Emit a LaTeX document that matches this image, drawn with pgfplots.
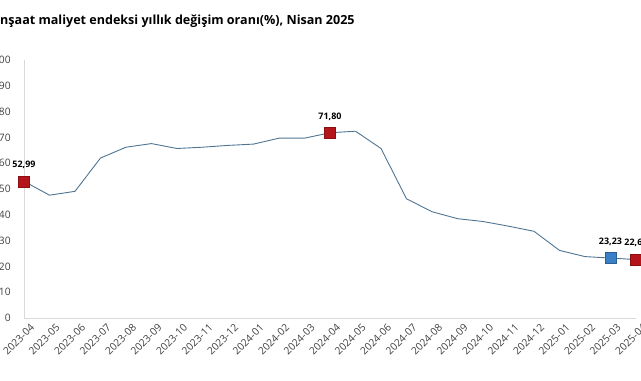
\documentclass[border=0pt]{standalone}
\usepackage{pgfplots}
\pgfplotsset{compat=1.18}
\usepackage{fontspec}
\setmainfont{Open Sans}
\definecolor{linec}{HTML}{4F7593}
\definecolor{redm}{HTML}{B3151B}
\definecolor{redb}{HTML}{8A0E12}
\definecolor{bluem}{HTML}{3A80C4}
\definecolor{blueb}{HTML}{2A5F95}
\definecolor{axc}{HTML}{D9D9D9}
\definecolor{tickc}{HTML}{404040}
\begin{document}
\begin{tikzpicture}[x=1bp,y=1bp]
\begin{axis}[
  at={(24bp,62bp)}, anchor=south west,
  scale only axis, width=612bp, height=258bp,
  xmin=0, xmax=24, ymin=0, ymax=100,
  clip=false,
  axis lines=left,
  axis line style={draw=axc, line width=0.8bp, -},
  major tick style={draw=none},
  ytick={0,10,...,100},
  xtick={0,...,24},
  xticklabels={2023-04,2023-05,2023-06,2023-07,2023-08,2023-09,2023-10,2023-11,2023-12,2024-01,2024-02,2024-03,2024-04,2024-05,2024-06,2024-07,2024-08,2024-09,2024-10,2024-11,2024-12,2025-01,2025-02,2025-03,2025-04},
  /pgf/number format/assume math mode=true,
  ticklabel style={font=\fontsize{10.3}{12}\selectfont, text=tickc},
  yticklabel style={inner sep=0pt, anchor=east, xshift=-11bp},
  xticklabel style={inner sep=0pt, rotate=45, anchor=north east, xshift=2bp, yshift=-6bp},
]
\addplot[linec, line width=0.9bp, mark=none] coordinates {
 (0,52.99) (1,47.6) (2,49.1) (3,62.0) (4,66.2) (5,67.6) (6,65.7) (7,66.2)
 (8,66.9) (9,67.4) (10,69.7) (11,69.7) (12,71.80) (13,72.4) (14,65.7)
 (15,46.2) (16,41.2) (17,38.5) (18,37.4) (19,35.6) (20,33.6) (21,26.2)
 (22,23.8) (23,23.23) (24,22.65)
};
\addplot[only marks, mark=square*, mark size=5.5bp, mark options={fill=redm, draw=redb, line width=0.4bp},
  point meta=explicit symbolic, nodes near coords,
  every node near coord/.append style={font=\bfseries\fontsize{9}{11}\selectfont, text=black, anchor=south, yshift=9bp}]
 coordinates {(0,52.99) [52,99] (12,71.80) [71,80] (24,22.65) [22,65]};
\addplot[only marks, mark=square*, mark size=5.5bp, mark options={fill=bluem, draw=blueb, line width=0.4bp},
  point meta=explicit symbolic, nodes near coords,
  every node near coord/.append style={font=\bfseries\fontsize{9}{11}\selectfont, text=black, anchor=south, yshift=9bp}]
 coordinates {(23,23.23) [23,23]};
\end{axis}
\node[anchor=base west, inner sep=0pt, font=\bfseries\fontsize{12.6}{15}\selectfont] at (0,356) {\llap{İ}nşaat maliyet endeksi yıllık değişim oranı(\%), Nisan 2025};
\pgfresetboundingbox
\useasboundingbox (0,0) rectangle (641,380);
\end{tikzpicture}
\end{document}
